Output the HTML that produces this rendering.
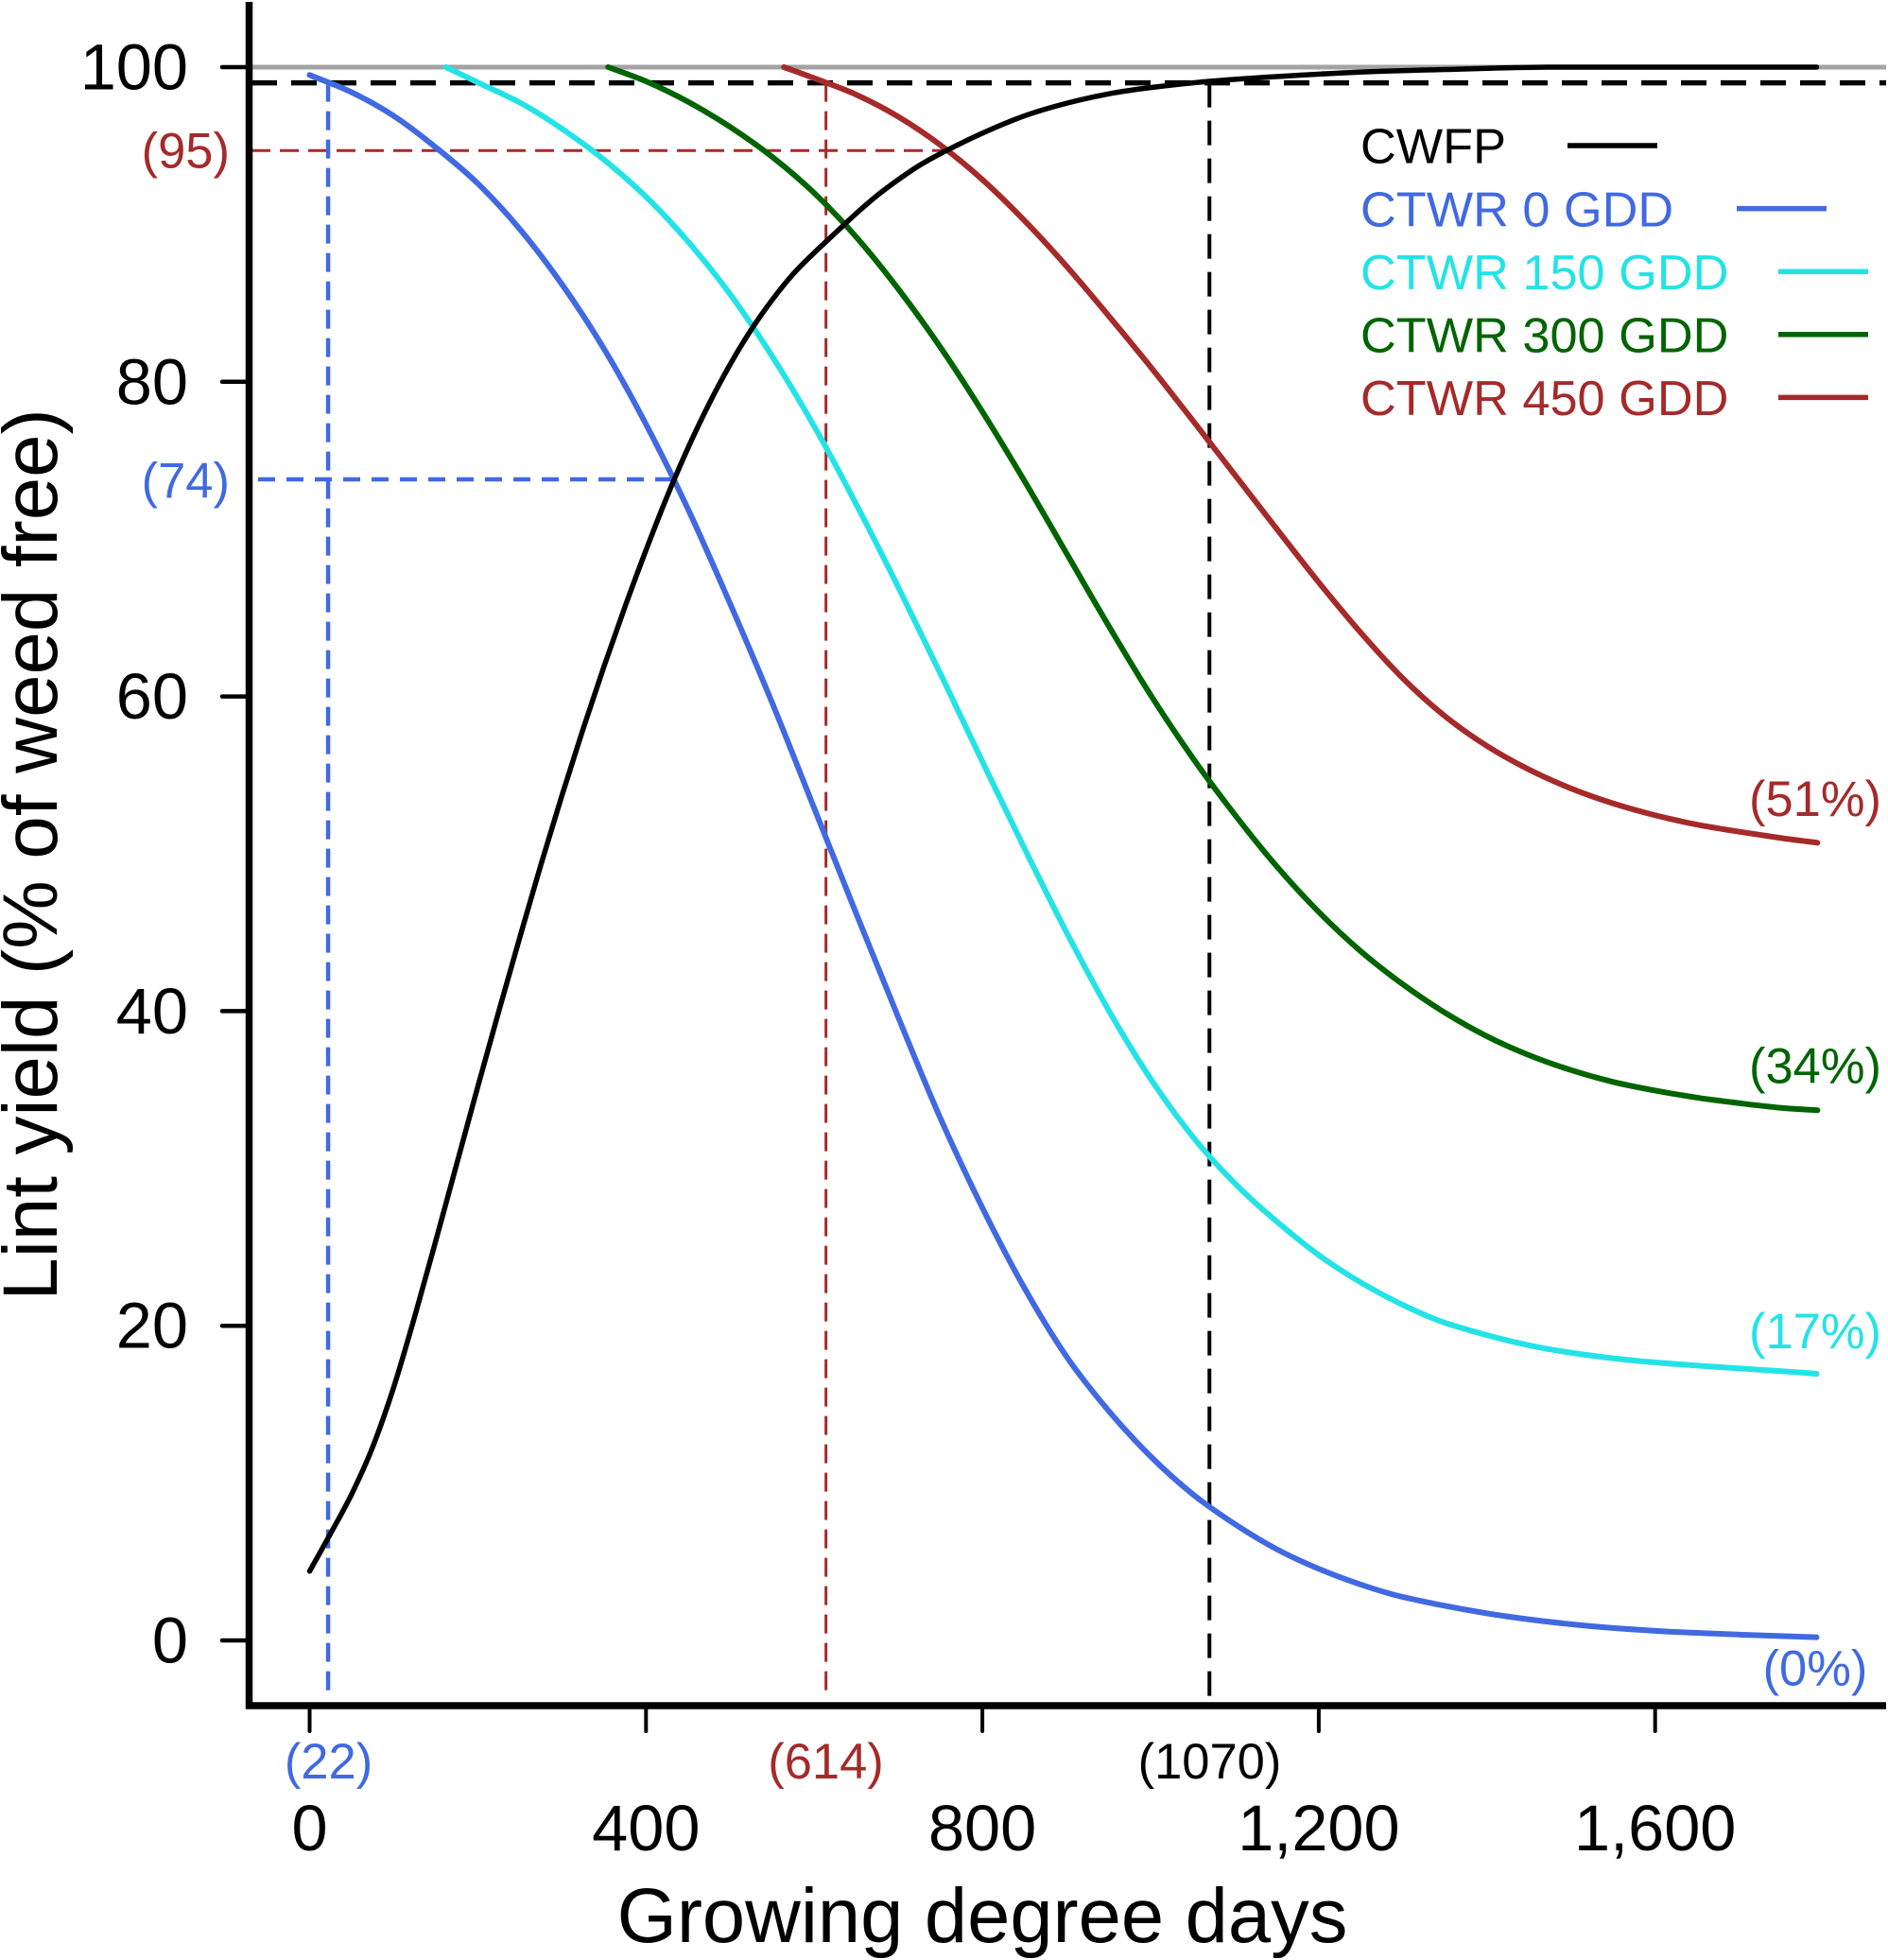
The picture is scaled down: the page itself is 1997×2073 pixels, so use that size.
<!DOCTYPE html>
<html lang="en">
<head>
<meta charset="utf-8">
<title>Lint yield vs growing degree days</title>
<style>
  html, body { margin: 0; padding: 0; background: #fff; }
  svg { display: block; }
  text { font-family: "Liberation Sans", Arial, sans-serif; }
</style>
</head>
<body>
<svg id="chart" xmlns="http://www.w3.org/2000/svg" width="1997" height="2073" viewBox="0 0 1997 2073">
  <rect x="0" y="0" width="1997" height="2073" fill="#ffffff"/>
  <g id="refs"></g>
  <g id="series"></g>
  <g id="axes"></g>
  <g id="labels"></g>
  <g id="legend"></g>
  <text x="1039" y="2054" font-size="81.3" text-anchor="middle" fill="#000">Growing degree days</text>
  <text transform="translate(60 904) rotate(-90)" font-size="81.6" text-anchor="middle" fill="#000">Lint yield (% of weed free)</text>
</svg>
<script>
const xTicks = [0, 400, 800, 1200, 1600];
const xTickLabels = ['0', '400', '800', '1,200', '1,600'];
const yTicks = [0, 20, 40, 60, 80, 100];
const yTickLabels = ['0', '20', '40', '60', '80', '100'];

const cwfpGdd = [0, 25, 50, 75, 100, 125, 150, 175, 200, 225, 250, 275, 300, 325, 350, 375, 400, 425, 450, 475, 500, 525, 550, 575, 600, 625, 650, 675, 700, 725, 750, 800, 850, 900, 950, 1000, 1070, 1150, 1256, 1350, 1471, 1792];
const cwfpYield = [4.4, 6.8, 9.3, 12.3, 16.1, 20.6, 25.4, 30.3, 35.2, 40, 44.7, 49.3, 53.7, 57.9, 61.9, 65.7, 69.3, 72.7, 75.8, 78.6, 81.1, 83.3, 85.2, 86.85, 88.2, 89.45, 90.7, 91.85, 92.85, 93.75, 94.5, 95.8, 96.9, 97.7, 98.3, 98.7, 99.1, 99.4, 99.7, 99.85, 100, 100];

const ctwr0Gdd = [0, 50, 100, 150, 200, 250, 300, 350, 400, 450, 500, 550, 600, 650, 700, 750, 800, 850, 900, 950, 1000, 1050, 1100, 1150, 1200, 1250, 1300, 1400, 1500, 1600, 1700, 1792];
const ctwr0Yield = [99.5, 98.4, 96.9, 94.9, 92.6, 89.7, 86.2, 82.1, 77.3, 71.9, 65.9, 59.6, 52.9, 46.2, 39.6, 33.2, 27.5, 22.4, 18.05, 14.6, 11.7, 9.3, 7.4, 5.8, 4.55, 3.55, 2.76, 1.72, 1.03, 0.61, 0.37, 0.2];

const ctwr150Gdd = [162, 205, 255, 305, 355, 405, 455, 505, 555, 605, 655, 705, 755, 805, 855, 905, 955, 1005, 1055, 1105, 1155, 1205, 1255, 1305, 1355, 1455, 1555, 1655, 1755, 1792];
const ctwr150Yield = [100, 98.9, 97.6, 95.9, 93.9, 91.5, 88.6, 85.2, 81.2, 76.7, 71.7, 66.4, 60.9, 55.3, 49.8, 44.5, 39.6, 35.3, 31.7, 28.8, 26.4, 24.3, 22.6, 21.2, 20.1, 18.7, 17.9, 17.45, 17.1, 16.95];

const ctwr300Gdd = [355, 400, 450, 500, 550, 600, 650, 700, 750, 800, 850, 900, 950, 1000, 1050, 1100, 1150, 1200, 1250, 1300, 1350, 1400, 1450, 1500, 1550, 1600, 1650, 1700, 1750, 1793];
const ctwr300Yield = [100, 99.1, 97.8, 96.2, 94.3, 92, 89.2, 85.9, 82.2, 78.1, 73.7, 69.1, 64.5, 60.1, 56.1, 52.5, 49.2, 46.3, 43.8, 41.7, 39.9, 38.4, 37.2, 36.25, 35.5, 34.95, 34.5, 34.15, 33.85, 33.7];

const ctwr450Gdd = [564, 600, 650, 700, 750, 800, 850, 900, 950, 1000, 1050, 1100, 1150, 1200, 1250, 1300, 1350, 1400, 1450, 1500, 1550, 1600, 1650, 1700, 1750, 1793];
const ctwr450Yield = [100, 99.3, 98.25, 96.85, 95.05, 92.85, 90.25, 87.35, 84.2, 80.95, 77.55, 74.1, 70.65, 67.25, 64.05, 61.15, 58.75, 56.85, 55.35, 54.15, 53.2, 52.45, 51.85, 51.4, 51, 50.7];

const seriesNames = ['CWFP', 'CTWR 0 GDD', 'CTWR 150 GDD', 'CTWR 300 GDD', 'CTWR 450 GDD'];
const seriesColors = ['#000000', '#4169e1', '#24e3e6', '#006400', '#a52a2a'];

const NS = 'http://www.w3.org/2000/svg';
const xScale = v => 327.5 + v * 0.8895;
const yScale = v => 1735 - v * 16.64;

function make(tag, parent, attrs, text) {
  const el = document.createElementNS(NS, tag);
  for (const k in attrs) el.setAttribute(k, attrs[k]);
  if (text !== undefined) el.textContent = text;
  document.getElementById(parent).appendChild(el);
  return el;
}

function curvePath(xs, ys) {
  const p = xs.map((x, i) => [xScale(x), yScale(ys[i])]);
  let d = 'M' + p[0][0].toFixed(2) + ' ' + p[0][1].toFixed(2);
  for (let i = 0; i < p.length - 1; i++) {
    const a = p[Math.max(0, i - 1)], b = p[i], c = p[i + 1], e = p[Math.min(p.length - 1, i + 2)];
    const h = c[0] - b[0];
    const m1 = (c[1] - a[1]) / (c[0] - a[0]);
    const m2 = (e[1] - b[1]) / (e[0] - b[0]);
    d += 'C' + (b[0] + h / 3).toFixed(2) + ' ' + (b[1] + m1 * h / 3).toFixed(2) + ' ' + (c[0] - h / 3).toFixed(2) + ' ' + (c[1] - m2 * h / 3).toFixed(2) + ' ' + c[0].toFixed(2) + ' ' + c[1].toFixed(2);
  }
  return d;
}

/* reference lines */
let el;
el = make('line', 'refs', { x1: 266, x2: 1995, y1: yScale(100), y2: yScale(100), stroke: '#a3a3a3', 'stroke-width': 5 });



el = make('line', 'refs', { x1: 266, x2: 1995, y1: yScale(99), y2: yScale(99), stroke: '#000', 'stroke-width': 5.5, 'stroke-dasharray': '27 15' });



el = make('line', 'refs', { x1: xScale(1070), x2: xScale(1070), y1: yScale(99), y2: 1797, stroke: '#000', 'stroke-width': 4, 'stroke-dasharray': '26 14' });



el = make('line', 'refs', { x1: 266, x2: xScale(755), y1: yScale(94.7), y2: yScale(94.7), stroke: '#a52a2a', 'stroke-width': 3, 'stroke-dasharray': '20 10' });



el = make('line', 'refs', { x1: xScale(614), x2: xScale(614), y1: yScale(99), y2: 1797, stroke: '#a52a2a', 'stroke-width': 3, 'stroke-dasharray': '20 10' });



el = make('line', 'refs', { x1: 273, x2: xScale(433), y1: yScale(73.8), y2: yScale(73.8), stroke: '#4169e1', 'stroke-width': 4.5, 'stroke-dasharray': '18 12' });



el = make('line', 'refs', { x1: xScale(22), x2: xScale(22), y1: yScale(99), y2: 1797, stroke: '#4169e1', 'stroke-width': 4.5, 'stroke-dasharray': '20 10' });



/* series */
el = make('path', 'series', { d: curvePath(ctwr0Gdd, ctwr0Yield), fill: 'none', stroke: seriesColors[1], 'stroke-width': 6, 'stroke-linecap': 'round' });



el = make('path', 'series', { d: curvePath(ctwr150Gdd, ctwr150Yield), fill: 'none', stroke: seriesColors[2], 'stroke-width': 6, 'stroke-linecap': 'round' });



el = make('path', 'series', { d: curvePath(ctwr300Gdd, ctwr300Yield), fill: 'none', stroke: seriesColors[3], 'stroke-width': 6, 'stroke-linecap': 'round' });



el = make('path', 'series', { d: curvePath(ctwr450Gdd, ctwr450Yield), fill: 'none', stroke: seriesColors[4], 'stroke-width': 6, 'stroke-linecap': 'round' });



el = make('path', 'series', { d: curvePath(cwfpGdd, cwfpYield), fill: 'none', stroke: seriesColors[0], 'stroke-width': 5.5, 'stroke-linecap': 'round' });



/* axes */
el = make('line', 'axes', { x1: 263.5, x2: 263.5, y1: 2, y2: 1807.5, stroke: '#000', 'stroke-width': 7.5, 'stroke-linecap': 'butt' });



el = make('line', 'axes', { x1: 260, x2: 1995, y1: 1804, y2: 1804, stroke: '#000', 'stroke-width': 7.5, 'stroke-linecap': 'butt' });



yTicks.forEach((t, i) => {
  const tick = make('line', 'axes', { x1: 235, x2: 263, y1: yScale(t), y2: yScale(t), stroke: '#000', 'stroke-width': 4.5, 'stroke-linecap': 'round' });
  
  
  const lab = make('text', 'axes', { x: 199, y: yScale(t) + 23.5, 'font-size': 68.5, 'text-anchor': 'end', fill: '#000' }, yTickLabels[i]);
  
  
});

xTicks.forEach((t, i) => {
  const tick = make('line', 'axes', { x1: xScale(t), x2: xScale(t), y1: 1804, y2: 1831, stroke: '#000', 'stroke-width': 4, 'stroke-linecap': 'round' });
  
  
  const lab = make('text', 'axes', { x: xScale(t), y: 1957, 'font-size': 68.5, 'text-anchor': 'middle', fill: '#000' }, xTickLabels[i]);
  
  
});

/* annotations */
el = make('text', 'labels', { x: 243, y: 177.5, 'font-size': 52.5, 'text-anchor': 'end', fill: '#a52a2a' }, '(95)');



el = make('text', 'labels', { x: 243, y: 526.5, 'font-size': 52.5, 'text-anchor': 'end', fill: '#4169e1' }, '(74)');



el = make('text', 'labels', { x: 347.5, y: 1881, 'font-size': 52.5, 'text-anchor': 'middle', fill: '#4169e1' }, '(22)');



el = make('text', 'labels', { x: 873.5, y: 1881, 'font-size': 52.5, 'text-anchor': 'middle', fill: '#a52a2a' }, '(614)');



el = make('text', 'labels', { x: 1279.5, y: 1881, 'font-size': 52.5, 'text-anchor': 'middle', fill: '#000' }, '(1070)');



el = make('text', 'labels', { x: 1920, y: 863, 'font-size': 52.5, 'text-anchor': 'middle', fill: '#a52a2a' }, '(51%)');



el = make('text', 'labels', { x: 1920, y: 1145.5, 'font-size': 52.5, 'text-anchor': 'middle', fill: '#006400' }, '(34%)');



el = make('text', 'labels', { x: 1920, y: 1426, 'font-size': 52.5, 'text-anchor': 'middle', fill: '#24e3e6' }, '(17%)');



el = make('text', 'labels', { x: 1920, y: 1782.5, 'font-size': 52.5, 'text-anchor': 'middle', fill: '#4169e1' }, '(0%)');



/* legend */
const legendGap = [1658, 1837, 1881, 1881, 1881];
seriesNames.forEach((name, i) => {
  const rowY = 172.7 + i * 66.6;
  const lab = make('text', 'legend', { x: 1439, y: rowY, 'font-size': 52.3, fill: seriesColors[i] }, name);
  
  
  const sw = make('line', 'legend', { x1: legendGap[i], x2: legendGap[i] + 95, y1: rowY - 18.7, y2: rowY - 18.7, stroke: seriesColors[i], 'stroke-width': 5.5 });
  
  
});
</script>
</body>
</html>
